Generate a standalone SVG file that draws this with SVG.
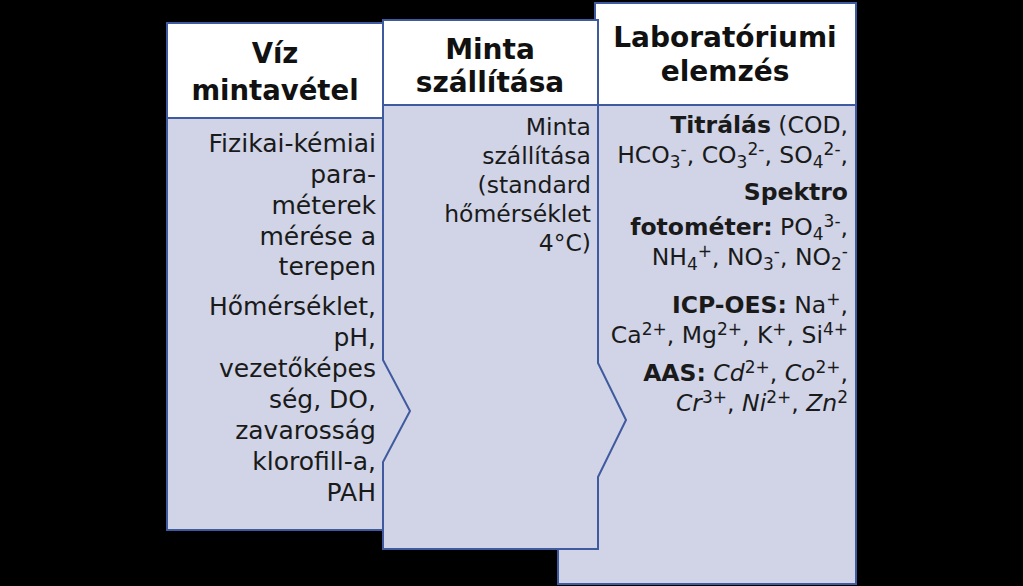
<svg xmlns="http://www.w3.org/2000/svg" width="1023" height="586" viewBox="0 0 1023 586">
<style>
.bg{fill:#000}
.body{fill:#D0D4E6;stroke:#3F5A9E;stroke-width:2;stroke-linejoin:miter}
.head{fill:#FFFFFF;stroke:#3F5A9E;stroke-width:2}
.ht{font-family:"DejaVu Sans","Liberation Sans",sans-serif;font-weight:bold;fill:#111;text-anchor:middle}
.bt{font-family:"DejaVu Sans","Liberation Sans",sans-serif;fill:#1a1a1a;text-anchor:end}
.b{font-weight:bold}
.s{font-size:17px}
</style>
<rect class="bg" x="0" y="0" width="1023" height="586"/>
<g id="connectors"></g>
<g id="node3">
<rect class="body" x="558" y="105" width="298" height="479"/>
<rect class="head" x="595" y="3" width="261" height="102"/>
<text class="ht" x="725" y="47" font-size="28">Laboratóriumi</text>
<text class="ht" x="725" y="81" font-size="28">elemzés</text>
<g class="bt" font-size="23.5">
<text x="848" y="133"><tspan class="b">Titrálás</tspan> (COD,</text>
<text x="848" y="163">HCO<tspan class="s" dy="5">3</tspan><tspan class="s" dy="-13">-</tspan><tspan dy="8">, CO</tspan><tspan class="s" dy="5">3</tspan><tspan class="s" dy="-13">2-</tspan><tspan dy="8">, SO</tspan><tspan class="s" dy="5">4</tspan><tspan class="s" dy="-13">2-</tspan><tspan dy="8">,</tspan></text>
<text x="848" y="200" class="b">Spektro</text>
<text x="848" y="235"><tspan class="b">fotométer:</tspan> PO<tspan class="s" dy="5">4</tspan><tspan class="s" dy="-13">3-</tspan><tspan dy="8">,</tspan></text>
<text x="848" y="265">NH<tspan class="s" dy="5">4</tspan><tspan class="s" dy="-13">+</tspan><tspan dy="8">, NO</tspan><tspan class="s" dy="5">3</tspan><tspan class="s" dy="-13">-</tspan><tspan dy="8">, NO</tspan><tspan class="s" dy="5">2</tspan><tspan class="s" dy="-13">-</tspan></text>
<text x="848" y="313"><tspan class="b">ICP-OES:</tspan> Na<tspan class="s" dy="-8">+</tspan><tspan dy="8">,</tspan></text>
<text x="848" y="343">Ca<tspan class="s" dy="-8">2+</tspan><tspan dy="8">, Mg</tspan><tspan class="s" dy="-8">2+</tspan><tspan dy="8">, K</tspan><tspan class="s" dy="-8">+</tspan><tspan dy="8">, Si</tspan><tspan class="s" dy="-8">4+</tspan></text>
<text x="848" y="381"><tspan class="b">AAS:</tspan> <tspan font-style="italic">Cd</tspan><tspan class="s" dy="-8">2+</tspan><tspan dy="8">, </tspan><tspan font-style="italic">Co</tspan><tspan class="s" dy="-8">2+</tspan><tspan dy="8">,</tspan></text>
<text x="848" y="411"><tspan font-style="italic">Cr</tspan><tspan class="s" dy="-8">3+</tspan><tspan dy="8">, </tspan><tspan font-style="italic">Ni</tspan><tspan class="s" dy="-8">2+</tspan><tspan dy="8">, </tspan><tspan font-style="italic">Zn</tspan><tspan class="s" dy="-8">2</tspan></text>
</g>
</g>
<g id="node2">
<polygon class="body" points="383,105 598,105 598,363 626,420 598,477 598,549 383,549"/>
<rect class="head" x="383" y="20" width="215" height="85"/>
<text class="ht" x="490" y="59" font-size="28">Minta</text>
<text class="ht" x="490" y="92" font-size="28">szállítása</text>
<g class="bt" font-size="23.5">
<text x="591" y="135">Minta</text>
<text x="591" y="164">szállítása</text>
<text x="591" y="193">(standard</text>
<text x="591" y="222">hőmérséklet</text>
<text x="591" y="251">4°C)</text>
</g>
</g>
<g id="node1">
<polygon class="body" points="167,118 383,118 383,360 410,411 383,462 383,530 167,530"/>
<rect class="head" x="167" y="23" width="216" height="95"/>
<text class="ht" x="275" y="63" font-size="27.5">Víz</text>
<text class="ht" x="275" y="100" font-size="27.5">mintavétel</text>
<g class="bt" font-size="25">
<text x="376" y="152">Fizikai-kémiai</text>
<text x="376" y="183">para-</text>
<text x="376" y="214">méterek</text>
<text x="376" y="245">mérése a</text>
<text x="376" y="275">terepen</text>
<text x="376" y="315">Hőmérséklet,</text>
<text x="376" y="346">pH,</text>
<text x="376" y="377">vezetőképes</text>
<text x="376" y="408">ség, DO,</text>
<text x="376" y="439">zavarosság</text>
<text x="376" y="470">klorofill-a,</text>
<text x="376" y="501">PAH</text>
</g>
</g>
</svg>
